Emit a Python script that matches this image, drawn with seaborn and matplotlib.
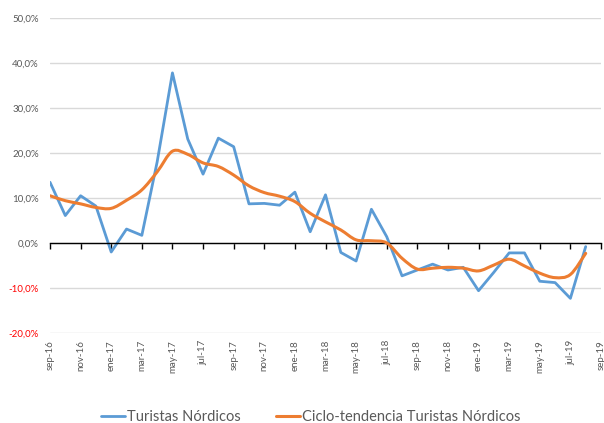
import matplotlib
matplotlib.use("Agg")
import matplotlib.pyplot as plt
import seaborn as sns
import pandas as pd
from matplotlib.ticker import FuncFormatter
from matplotlib.path import Path
from matplotlib.patches import PathPatch
from matplotlib.lines import Line2D

# -------------------------
# Data (monthly, sep-16 .. aug-19), % variation
# -------------------------
months = ["sep-16", "oct-16", "nov-16", "dic-16", "ene-17", "feb-17", "mar-17", "abr-17",
          "may-17", "jun-17", "jul-17", "ago-17", "sep-17", "oct-17", "nov-17", "dic-17",
          "ene-18", "feb-18", "mar-18", "abr-18", "may-18", "jun-18", "jul-18", "ago-18",
          "sep-18", "oct-18", "nov-18", "dic-18", "ene-19", "feb-19", "mar-19", "abr-19",
          "may-19", "jun-19", "jul-19", "ago-19", "sep-19"]

turistas = [13.5, 6.1, 10.5, 8.2, -2.0, 3.1, 1.7, 18.0,
            37.8, 23.1, 15.3, 23.3, 21.4, 8.7, 8.8, 8.4,
            11.3, 2.5, 10.7, -2.1, -4.0, 7.5, 1.4, -7.3,
            -6.0, -4.7, -6.0, -5.4, -10.6, -6.5, -2.2, -2.2,
            -8.5, -8.8, -12.3, -0.8]

tendencia = [10.5, 9.4, 8.7, 7.9, 7.7, 9.5, 11.8, 15.8,
             20.4, 19.7, 17.8, 17.0, 15.1, 12.7, 11.2, 10.4,
             9.2, 6.6, 4.7, 2.9, 0.7, 0.5, 0.0, -3.4,
             -5.8, -5.6, -5.4, -5.6, -6.2, -4.9, -3.6, -5.1,
             -6.7, -7.7, -7.0, -2.3]

y_ticks = [-20, -10, 0, 10, 20, 30, 40, 50]

BLUE = "#5B9BD5"
ORANGE = "#ED7D31"


def smooth_path(xs, ys):
    """Excel-like smoothed line: cubic Bezier segments through the points."""
    n = len(xs)
    verts = [(xs[0], ys[0])]
    codes = [Path.MOVETO]
    for i in range(n - 1):
        x0, y0 = xs[max(i - 1, 0)], ys[max(i - 1, 0)]
        x1, y1 = xs[i], ys[i]
        x2, y2 = xs[i + 1], ys[i + 1]
        x3, y3 = xs[min(i + 2, n - 1)], ys[min(i + 2, n - 1)]
        c1 = (x1 + (x2 - x0) / 6, y1 + (y2 - y0) / 6)
        c2 = (x2 - (x3 - x1) / 6, y2 - (y3 - y1) / 6)
        verts += [c1, c2, (x2, y2)]
        codes += [Path.CURVE4] * 3
    return Path(verts, codes)


df = pd.DataFrame({"idx": range(len(turistas)), "valor": turistas})

sns.set_style("white")
plt.rcParams["font.family"] = ["Lato", "DejaVu Sans"]

fig = plt.figure(figsize=(6.04, 4.23), dpi=100)
ax = fig.add_axes([50 / 604, 1 - 333 / 423, 551 / 604, 315 / 423])

sns.lineplot(data=df, x="idx", y="valor", color=BLUE, lw=2.0, ax=ax)
ax.add_patch(PathPatch(smooth_path(list(range(len(tendencia))), tendencia),
                       facecolor="none", edgecolor=ORANGE, lw=2.2,
                       capstyle="round", joinstyle="round", zorder=3))

ax.set_xlim(0, len(months) - 1)
ax.set_ylim(-20, 50)

# gridlines
ax.set_yticks(y_ticks)
ax.yaxis.grid(True, color="#d9d9d9", lw=1)
ax.set_axisbelow(True)
ax.yaxis.set_major_formatter(FuncFormatter(lambda v, p: f"{v:.1f}%".replace(".", ",")))
ax.tick_params(axis="y", length=0, pad=8, labelsize=7, labelcolor="#595959")
for lbl, v in zip(ax.get_yticklabels(), y_ticks):
    if v < 0:
        lbl.set_color("#FF0000")

for s in ["top", "right", "left"]:
    ax.spines[s].set_visible(False)
ax.spines["bottom"].set_position(("data", 0))
ax.spines["bottom"].set_color("black")
ax.spines["bottom"].set_linewidth(1)

tick_pos = list(range(0, len(months), 2))
ax.set_xticks(tick_pos)
ax.tick_params(axis="x", direction="out", length=4, width=1, color="black",
               labelbottom=False, bottom=True)
ax.set_xlabel("")
ax.set_ylabel("")

sec = ax.secondary_xaxis(0)
sec.set_xticks(tick_pos)
sec.set_xticklabels([months[i] for i in tick_pos], rotation=90, fontsize=7,
                    color="#595959")
sec.tick_params(length=0, pad=5)
sec.spines["bottom"].set_visible(False)

handles = [Line2D([], [], color=BLUE, lw=2.0), Line2D([], [], color=ORANGE, lw=2.2)]
labels = ["Turistas Nórdicos", "Ciclo-tendencia Turistas Nórdicos"]
fig.legend(handles, labels, loc="center", bbox_to_anchor=(0.515, 1 - 417 / 423),
           ncol=2, frameon=False, fontsize=10.5, handlelength=1.6,
           columnspacing=2.4, handletextpad=0.2, labelcolor="#595959")

fig.savefig("out.png", dpi=100)
